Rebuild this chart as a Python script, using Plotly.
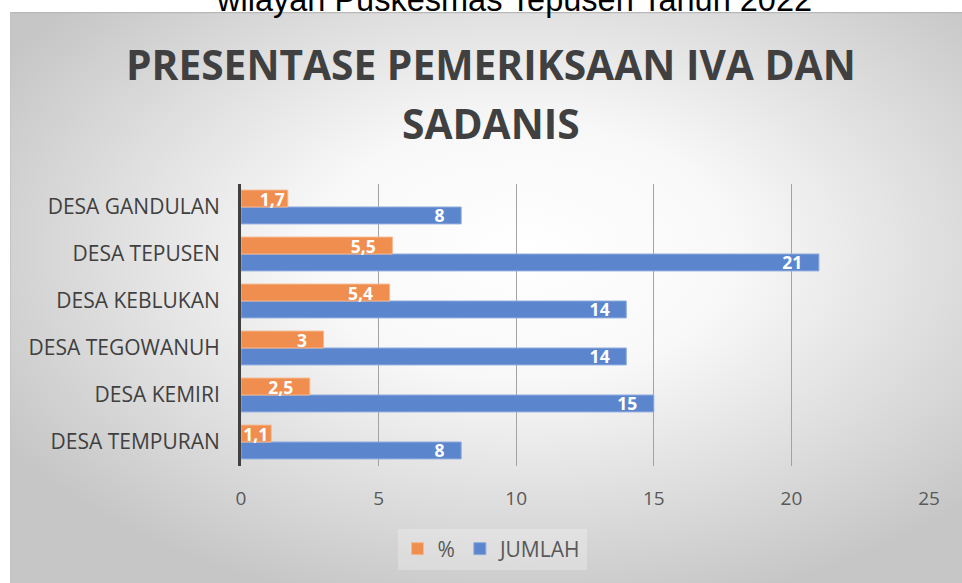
import base64
import plotly.graph_objects as go

categories = ["DESA GANDULAN", "DESA TEPUSEN", "DESA KEBLUKAN", "DESA TEGOWANUH", "DESA KEMIRI", "DESA TEMPURAN"]
persen = [1.7, 5.5, 5.4, 3, 2.5, 1.1]
jumlah = [8, 21, 14, 14, 15, 8]
persen_labels = ["1,7", "5,5", "5,4", "3", "2,5", "1,1"]
jumlah_labels = ["8", "21", "14", "14", "15", "8"]
x_ticks = [0, 5, 10, 15, 20, 25]

W, H = 962, 583

svg = f'''<svg xmlns="http://www.w3.org/2000/svg" width="952" height="571" viewBox="0 0 952 571" preserveAspectRatio="none">
<defs><radialGradient id="g" cx="0.54" cy="0.42" r="0.64" fx="0.54" fy="0.42">
<stop offset="0" stop-color="#ffffff"/><stop offset="0.35" stop-color="#f8f8f8"/><stop offset="1" stop-color="#c6c6c6"/>
</radialGradient></defs>
<rect x="0" y="0" width="952" height="571" fill="url(#g)"/>
<line x1="0" y1="0.5" x2="952" y2="0.5" stroke="#b8b8b8" stroke-width="1.5"/>
<line x1="0.5" y1="0" x2="0.5" y2="571" stroke="#c4c4c4" stroke-width="1"/>
</svg>'''
bg_uri = "data:image/svg+xml;base64," + base64.b64encode(svg.encode()).decode()

label_font = dict(color="white", size=17.5, family="Open Sans", weight="bold")
PAD = "\u00a0\u00a0\u00a0"
BW = 0.36  # bar thickness in category units


def templates(values):
    # inside-end label with a little padding, except on very short bars
    return ["%{text}" + (PAD if v > 2.2 else "") for v in values]


fig = go.Figure()
# JUMLAH drawn first (below), % drawn second so its labels sit on top
fig.add_trace(go.Bar(
    y=categories, x=jumlah, name="JUMLAH", orientation="h", legendrank=2,
    offset=0, width=BW,
    marker=dict(color="#5B86CD", line=dict(color="#8EABDD", width=1)),
    text=jumlah_labels, texttemplate=templates(jumlah),
    textposition="inside", insidetextanchor="end", textangle=0,
    textfont=label_font, constraintext="none", cliponaxis=False,
))
fig.add_trace(go.Bar(
    y=categories, x=persen, name="%", orientation="h", legendrank=1,
    offset=-BW, width=BW,
    marker=dict(color="#EF8E4E", line=dict(color="#F6B78C", width=1)),
    text=persen_labels, texttemplate=templates(persen),
    textposition="inside", insidetextanchor="end", textangle=0,
    textfont=label_font, constraintext="none", cliponaxis=False,
))

x0, x1 = 241, 929
y_top, y_bot = 183.5, 465.5

fig.update_layout(
    width=W, height=H, autosize=False,
    margin=dict(l=0, r=0, t=0, b=0, autoexpand=False),
    paper_bgcolor="white", plot_bgcolor="rgba(0,0,0,0)",
    barmode="overlay",
    uniformtext=dict(minsize=17.5, mode="show"),
    showlegend=True,
    legend=dict(orientation="h", x=492 / W, xanchor="center", y=1 - 549 / H, yanchor="middle",
                font=dict(size=21, color="#595959", family="Open Sans"),
                bgcolor="rgba(255,255,255,0.25)", itemwidth=30),
    xaxis=dict(domain=[x0 / W, x1 / W], range=[0, 25], tickvals=x_ticks, automargin=False,
               showgrid=True, gridcolor="#a3a3a3", gridwidth=1, zeroline=False,
               showline=False, tickfont=dict(size=19, color="#595959", family="Open Sans"),
               ticks="outside", ticklen=16, tickcolor="rgba(0,0,0,0)"),
    yaxis=dict(domain=[1 - y_bot / H, 1 - y_top / H], autorange="reversed", automargin=False,
               categoryorder="array", categoryarray=categories,
               showline=True, linecolor="#404040", linewidth=3, showgrid=False,
               tickfont=dict(size=21, color="#404040", family="Open Sans"),
               ticks="outside", ticklen=14, tickcolor="rgba(0,0,0,0)"),
    images=[dict(source=bg_uri, xref="paper", yref="paper", x=10 / W, y=1 - 12 / H,
                 sizex=952 / W, sizey=571 / H, sizing="stretch", layer="below",
                 xanchor="left", yanchor="top")],
    annotations=[
        dict(text="wilayah Puskesmas Tepusen Tahun 2022", xref="paper", yref="paper",
             x=514 / W, y=1 - 0 / H, xanchor="center", yanchor="middle", showarrow=False,
             font=dict(family="Liberation Sans, Arial", size=32.5, color="black")),
        dict(text="PRESENTASE PEMERIKSAAN IVA DAN", xref="paper", yref="paper",
             x=491 / W, y=1 - 64 / H, xanchor="center", yanchor="middle", showarrow=False,
             font=dict(family="Open Sans", size=40.7, color="#404040", weight="bold")),
        dict(text="SADANIS", xref="paper", yref="paper",
             x=491 / W, y=1 - 123 / H, xanchor="center", yanchor="middle", showarrow=False,
             font=dict(family="Open Sans", size=40.7, color="#404040", weight="bold")),
    ],
)

fig.write_html("out.html", config={"responsive": False, "displayModeBar": False},
               post_script="document.body.style.margin='0';document.body.style.overflow='hidden';")
